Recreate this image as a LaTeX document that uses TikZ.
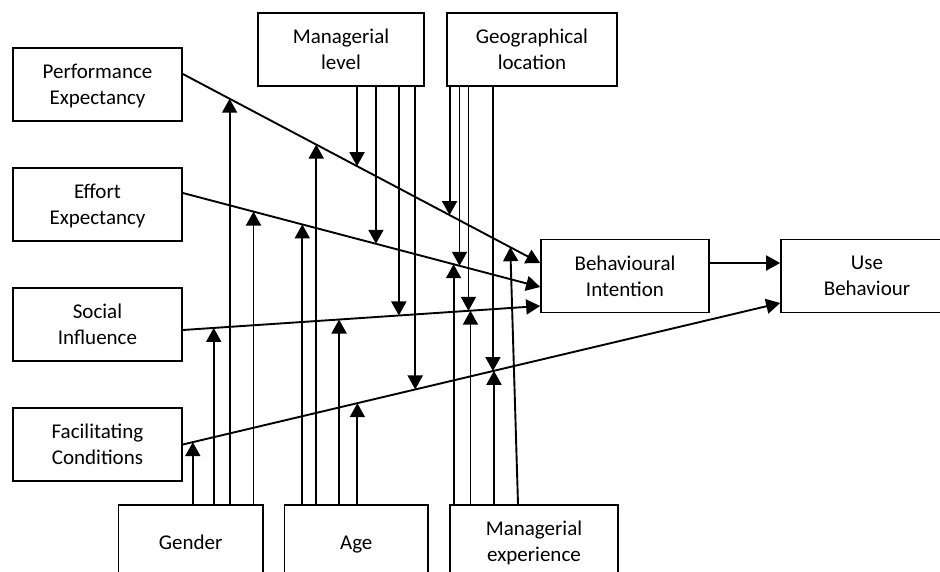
\documentclass[tikz,border=0pt]{standalone}
\usepackage{fontspec}
\setmainfont{Carlito}
\usetikzlibrary{arrows.meta,calc}
\begin{document}
\begin{tikzpicture}[x=1pt,y=-1pt,
  box/.style={draw,line width=1.7pt,rectangle,minimum width=169pt,minimum height=73pt,
    inner sep=0pt,align=center,text depth=-6pt,font=\fontsize{21}{26}\selectfont},
  oneline/.style={text height=15pt},
  link/.style={line width=1.9pt,-{Triangle[length=14pt,width=15pt]}}]
\clip (0,0) rectangle (940,571);
\fill[white] (0,0) rectangle (940,571);

% determinants
\node[box] (pe) at (97.5,84.5)  {Performance\\Expectancy};
\node[box] (ee) at (97.5,204.5) {Effort\\Expectancy};
\node[box] (si) at (97.5,324.5) {Social\\Influence};
\node[box] (fc) at (97.5,444.5) {Facilitating\\Conditions};

% outcomes
\node[box,minimum width=168pt] (bi) at (625,276) {Behavioural\\Intention};
\node[box,minimum width=172pt] (ub) at (867,276) {Use\\Behaviour};

% moderators, top
\node[box,minimum width=166pt] (ml) at (341,49.5) {Managerial\\level};
\node[box,minimum width=170pt] (gl) at (532,49.5) {Geographical\\location};

% moderators, bottom
\node[box,oneline,minimum width=144.5pt] (gen) at (190.75,541.5) {Gender};
\node[box,oneline,minimum width=143.5pt] (age) at (356.25,541.5) {Age};
\node[box,minimum width=168pt]   (me)  at (534,541.5) {Managerial\\experience};

% end points of the main paths
\coordinate (peA) at ([yshift=10.5pt]pe.east);
\coordinate (peB) at ([yshift=13pt]bi.west);
\coordinate (eeA) at ([yshift=11.5pt]ee.east);
\coordinate (eeB) at ([yshift=-11pt]bi.west);
\coordinate (siA) at ([yshift=-5.5pt]si.east);
\coordinate (siB) at ([yshift=-30pt]bi.west);
\coordinate (fcA) at (fc.east);
\coordinate (fcB) at ([yshift=-27pt]ub.west);

\draw[link] (peA) -- (peB);
\draw[link] (eeA) -- (eeB);
\draw[link] (siA) -- (siB);
\draw[link] (fcA) -- (fcB);
\draw[link] ([yshift=13pt]bi.east) -- ([yshift=13pt]ub.west);

% points where the moderating arrows meet the main paths
% Gender
\coordinate (g1) at ($(fcA)!0.0167!(fcB)$);
\coordinate (g2) at ($(siA)!0.0864!(siB)$);
\coordinate (g3) at ($(peA)!0.1309!(peB)$);
\coordinate (g4) at ($(eeA)!0.1978!(eeB)$);
% Age
\coordinate (a1) at ($(eeA)!0.3343!(eeB)$);
\coordinate (a2) at ($(peA)!0.3733!(peB)$);
\coordinate (a3) at ($(siA)!0.4373!(siB)$);
\coordinate (a4) at ($(fcA)!0.2922!(fcB)$);
% Managerial experience
\coordinate (m1) at ($(eeA)!0.7577!(eeB)$);
\coordinate (m2) at ($(siA)!0.8050!(siB)$);
\coordinate (m3) at ($(fcA)!0.5209!(fcB)$);
\coordinate (m4) at ($(peA)!0.9164!(peB)$);
% Managerial level
\coordinate (l1) at ($(peA)!0.4875!(peB)$);
\coordinate (l2) at ($(eeA)!0.5404!(eeB)$);
\coordinate (l3) at ($(siA)!0.6045!(siB)$);
\coordinate (l4) at ($(fcA)!0.3890!(fcB)$);
% Geographical location
\coordinate (r1) at ($(peA)!0.7465!(peB)$);
\coordinate (r2) at ($(eeA)!0.7744!(eeB)$);
\coordinate (r3) at ($(siA)!0.7994!(siB)$);
\coordinate (r4) at ($(fcA)!0.5192!(fcB)$);

% upward arrows from the bottom moderators
\foreach \p in {g1,g2,g3,g4} \draw[link] (\p |- gen.north) -- (\p);
\foreach \p in {a1,a2,a3,a4} \draw[link] (\p |- age.north) -- (\p);
\foreach \p in {m1,m2,m3} \draw[link] (\p |- me.north) -- (\p);
\draw[link] ([xshift=-16pt]me.north) -- (m4);

% downward arrows from the top moderators
\foreach \p in {l1,l2,l3,l4} \draw[link] (\p |- ml.south) -- (\p);
\foreach \p in {r1,r2,r3,r4} \draw[link] (\p |- gl.south) -- (\p);
\end{tikzpicture}
\end{document}
